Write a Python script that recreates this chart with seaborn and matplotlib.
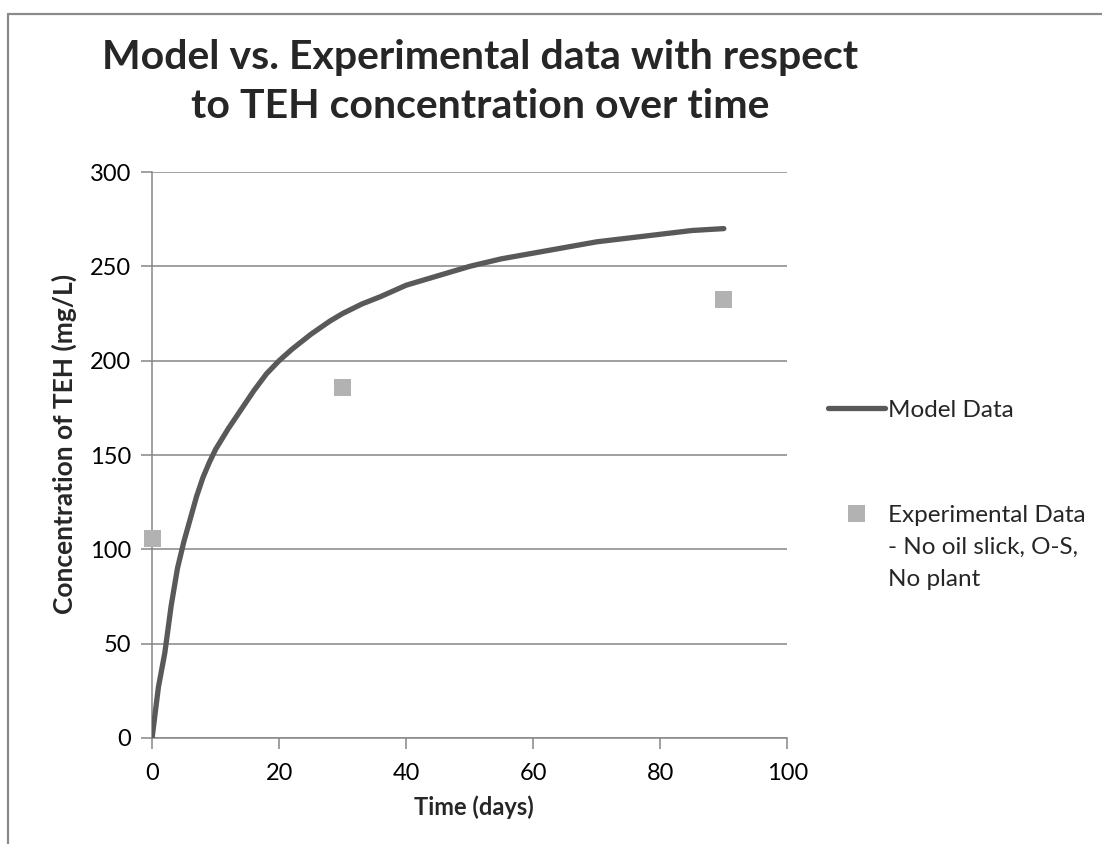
import numpy as np
import pandas as pd
import seaborn as sns
import matplotlib.pyplot as plt
from matplotlib.lines import Line2D
from matplotlib.collections import PathCollection
from matplotlib.legend_handler import HandlerPathCollection

# model curve (days, mg/L)
model_days = [0, 1, 2, 3, 4, 5, 6, 7, 8, 9, 10, 12, 14, 16, 18, 20, 22, 25, 28,
              30, 33, 36, 40, 45, 50, 55, 60, 65, 70, 75, 80, 85, 90]
model_conc = [0, 27, 45, 70, 90, 104, 116, 128, 138, 146, 153, 164, 174, 184, 193,
              200, 206, 214, 221, 225, 230, 234, 240, 245, 250, 254, 257, 260, 263,
              265, 267, 269, 270]

# experimental points
exp_days = [0, 30, 90]
exp_conc = [105.5, 185.7, 232.5]

title = "Model vs. Experimental data with respect\nto TEH concentration over time"
model_label = "Model Data"
exp_label = "Experimental Data\n- No oil slick, O-S,\nNo plant"

sns.set_theme(style="white")
plt.rcParams['font.family'] = ['Lato', 'DejaVu Sans']

grid_col = "#868686"

fig = plt.figure(figsize=(11.02, 8.44), dpi=100)
ax = fig.add_axes([0.138, 0.1256, 0.5765, 0.6706])

model_df = pd.DataFrame({"day": model_days, "conc": model_conc})
exp_df = pd.DataFrame({"day": exp_days, "conc": exp_conc})

sns.lineplot(data=model_df, x="day", y="conc", ax=ax, color="#595959",
             linewidth=3.8, label=model_label, zorder=3)
sns.scatterplot(data=exp_df, x="day", y="conc", ax=ax, color="#B2B2B2",
                marker="s", s=150, edgecolor="none", label=exp_label, zorder=4,
                clip_on=False)

ax.set_xlim(0, 100)
ax.set_ylim(0, 300)
ax.set_xticks(range(0, 101, 20))
ax.set_yticks(range(0, 301, 50))
ax.yaxis.grid(True, color=grid_col, linewidth=1.1)
ax.set_axisbelow(True)
for side in ["top", "right"]:
    ax.spines[side].set_visible(False)
for side in ["left", "bottom"]:
    ax.spines[side].set_color(grid_col)
    ax.spines[side].set_linewidth(1.1)
ax.tick_params(axis="both", which="both", direction="out", length=8, width=1.1,
               color=grid_col, labelsize=17, labelcolor="black", pad=7,
               left=True, bottom=True)
ax.tick_params(axis="x", pad=10)

ax.set_xlabel("Time (days)", fontsize=17, fontweight="bold")
ax.set_ylabel("Concentration of TEH (mg/L)", fontsize=19, fontweight="bold")
ax.xaxis.set_label_coords(0.507, -0.102)
ax.yaxis.set_label_coords(-0.118, 0.519)

fig.text(0.4356, 0.903, title, ha="center", va="center", fontsize=29.5,
         fontweight="bold", linespacing=1.38)

leg = ax.legend(loc="upper left", bbox_to_anchor=(1.049, 0.615), frameon=False,
                fontsize=17.5, handlelength=2.35, handletextpad=0.12,
                labelspacing=3.45, borderaxespad=0,
                handler_map={PathCollection: HandlerPathCollection(yoffsets=[2.45])})
for txt in leg.get_texts():
    txt.set_linespacing(1.65)

# outer chart-area border (cropped on right and bottom)
fig.add_artist(Line2D([8 / 1102, 8 / 1102], [0, 1 - 14 / 844],
                      transform=fig.transFigure, color="#8a8a8a", linewidth=1.6))
fig.add_artist(Line2D([8 / 1102, 1], [1 - 14 / 844, 1 - 14 / 844],
                      transform=fig.transFigure, color="#8a8a8a", linewidth=1.6))

fig.savefig("out.png", dpi=100, facecolor="white")
